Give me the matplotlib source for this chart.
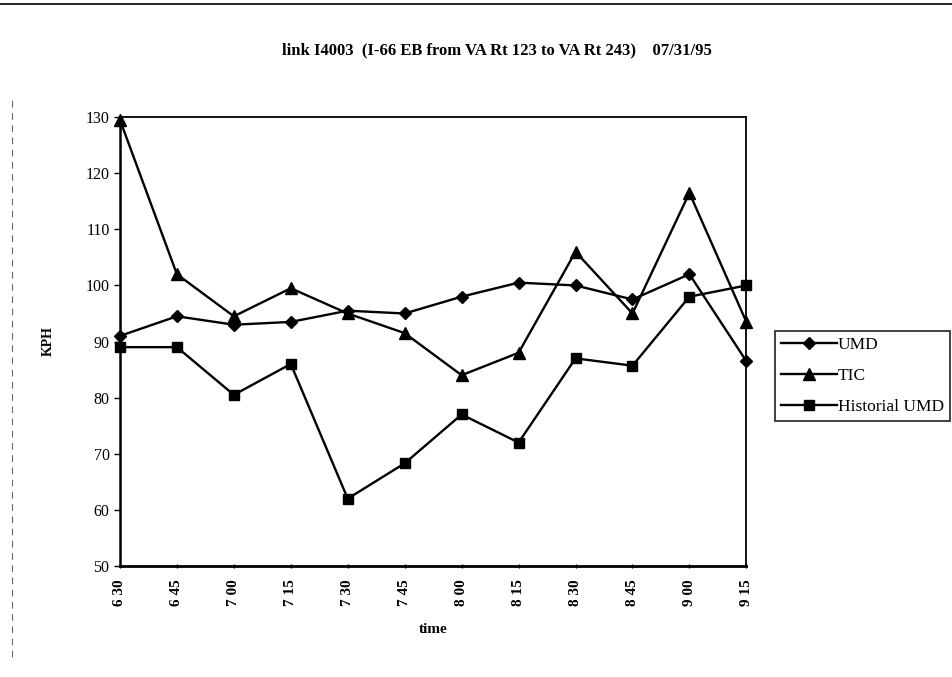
import matplotlib
matplotlib.use('Agg')
import matplotlib.pyplot as plt
from matplotlib.lines import Line2D

plt.rcParams['font.family'] = ['Liberation Serif', 'DejaVu Serif']

times = ['6 30', '6 45', '7 00', '7 15', '7 30', '7 45',
         '8 00', '8 15', '8 30', '8 45', '9 00', '9 15']
umd = [91, 94.5, 93, 93.5, 95.5, 95, 98, 100.5, 100, 97.5, 102, 86.5]
tic = [129.5, 102, 94.5, 99.5, 95, 91.5, 84, 88, 106, 95, 116.5, 93.5]
hist_umd = [89, 89, 80.5, 86, 62, 68.3, 77, 72, 87, 85.7, 98, 100]

fig = plt.figure(figsize=(9.52, 6.77), dpi=100)
ax = fig.add_axes([0.126, 0.164, 0.658, 0.663])

x = list(range(len(times)))
ax.plot(x, umd, color='black', lw=1.7, marker='D', ms=6.5, label='UMD', clip_on=False)
ax.plot(x, tic, color='black', lw=1.7, marker='^', ms=8, label='TIC', clip_on=False)
ax.plot(x, hist_umd, color='black', lw=1.7, marker='s', ms=7.5, label='Historial UMD', clip_on=False)

ax.set_xlim(0, len(times) - 1)
ax.set_ylim(50, 130)
ax.set_yticks(range(50, 131, 10))
ax.set_xticks(x)
ax.set_xticklabels(times, rotation=90, fontsize=11, fontweight='bold')
ax.tick_params(axis='y', labelsize=11.5, length=4, width=1)
ax.tick_params(axis='x', length=3, width=1, direction='inout', pad=8)
for s in ax.spines.values():
    s.set_linewidth(1.3)
ax.spines['bottom'].set_linewidth(2)
ax.spines['left'].set_linewidth(1.8)

ax.set_ylabel('KPH', fontsize=10, fontweight='bold', labelpad=22)
ax.set_xlabel('time', fontsize=11, fontweight='bold', labelpad=12)

fig.text(0.522, 0.926, 'link I4003  (I-66 EB from VA Rt 123 to VA Rt 243)    07/31/95',
         ha='center', va='center', fontsize=12, fontweight='bold')

leg = ax.legend(loc='center left', bbox_to_anchor=(1.046, 0.423), fontsize=12.5,
                frameon=True, fancybox=False, edgecolor='black', handlelength=3.2,
                borderpad=0.35, labelspacing=0.85, handletextpad=0.05, borderaxespad=0)
leg.get_frame().set_linewidth(1.3)

# scan border lines
fig.add_artist(Line2D([0, 1], [0.994, 0.994], color='black', lw=1.2, transform=fig.transFigure))
fig.add_artist(Line2D([0.013, 0.013], [0.03, 0.86], color='black', lw=0.8,
                      ls=(0, (6, 5)), alpha=0.6, transform=fig.transFigure))

fig.savefig('out.png', dpi=100)
